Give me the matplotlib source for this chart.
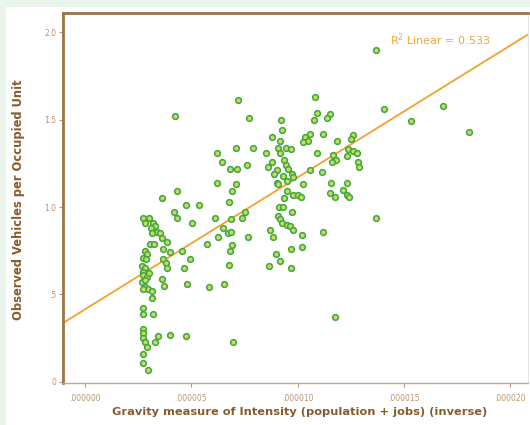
import numpy as np
import matplotlib
matplotlib.use("Agg")
import matplotlib.pyplot as plt
from matplotlib.patches import Rectangle
from matplotlib.ticker import FixedLocator, FixedFormatter

# gravity measure in units of 1e-6, vehicles per occupied unit
gravity_micro = [
    # outliers
    13.69, 4.23, 7.20, 7.71, 14.06, 16.84, 15.33, 18.06, 13.69, 11.76, 6.96,
    # mid-upper group
    6.21, 6.44, 7.10, 7.90, 6.82, 7.15, 7.62, 6.21, 7.10, 6.91, 4.33, 3.62,
    4.75, 5.36, 6.77, 4.19, 8.51, 8.61,
    # right dense group
    10.82, 10.91, 11.52, 11.38, 10.77, 9.22, 9.27, 8.80, 9.17, 10.35, 10.58,
    10.49, 10.25, 11.19, 11.85, 12.61, 12.51, 9.08, 9.45, 9.69, 9.17, 10.91,
    11.67, 11.81, 11.62, 12.37, 12.61, 12.79, 12.32, 12.84, 12.89, 8.80, 9.36,
    9.45, 9.55, 9.03, 9.31, 8.89, 10.58, 11.15, 9.74, 9.78, 9.03, 9.50, 9.08,
    10.25, 11.57, 12.32, 11.52, 12.14, 12.32, 12.42, 11.76, 9.50, 9.78, 10.02,
    10.16, 9.36, 9.13, 9.31, 9.74,
    # right lower group
    9.08, 9.17, 9.27, 9.50, 9.64, 9.78, 8.70, 8.84, 10.21, 11.19, 9.69, 10.21,
    8.98, 9.17, 8.65, 9.69,
    # middle lower group
    6.11, 6.87, 7.38, 7.53, 6.49, 6.26, 6.73, 6.87, 7.67, 5.74, 6.91, 6.82,
    6.77, 5.83, 6.54,
    # left column
    4.33, 5.03, 2.73, 2.82, 3.01, 3.20, 3.29, 3.10, 3.39, 3.53, 3.15, 3.62,
    3.86, 3.06, 3.25, 2.82, 2.92, 3.67, 4.00, 4.56, 2.73, 2.87, 3.67, 3.81,
    4.94, 2.68, 2.82, 2.73, 3.86, 4.66, 2.73, 2.92, 3.01, 2.68, 2.82, 3.62,
    3.72, 4.80, 2.82, 2.96, 3.15, 2.73, 3.15, 2.73, 2.73, 3.20, 2.73, 2.73,
    2.73, 2.82, 2.92, 3.43, 3.29, 4.00, 4.75, 2.73, 2.73, 2.96,
]
vehicles = [
    1.90, 1.52, 1.61, 1.51, 1.56, 1.58, 1.49, 1.43, 0.94, 0.37, 0.23,
    1.31, 1.26, 1.34, 1.34, 1.22, 1.22, 1.24, 1.14, 1.13, 1.09, 1.09, 1.05,
    1.01, 1.01, 1.03, 0.97, 1.31, 1.23,
    1.63, 1.54, 1.53, 1.51, 1.50, 1.50, 1.44, 1.40, 1.38, 1.40, 1.42,
    1.38, 1.37, 1.42, 1.38, 1.41, 1.39, 1.34, 1.34, 1.33, 1.31, 1.31,
    1.30, 1.27, 1.26, 1.33, 1.32, 1.31, 1.29, 1.26, 1.23, 1.26, 1.27,
    1.24, 1.22, 1.21, 1.18, 1.19, 1.21, 1.20, 1.19, 1.17, 1.14, 1.15, 1.13,
    1.13, 1.14, 1.14, 1.08, 1.10, 1.07, 1.06, 1.06, 1.09, 1.07, 1.07,
    1.06, 1.05, 1.00, 1.00, 0.97,
    0.95, 0.93, 0.91, 0.90, 0.89, 0.87, 0.87, 0.83, 0.84, 0.86, 0.76, 0.77,
    0.73, 0.69, 0.66, 0.65,
    0.94, 0.93, 0.94, 0.97, 0.88, 0.83, 0.85, 0.86, 0.83, 0.79, 0.78, 0.75,
    0.67, 0.54, 0.56,
    0.94, 0.91, 0.94, 0.91, 0.94, 0.91, 0.89, 0.88, 0.86, 0.85, 0.85, 0.82,
    0.80, 0.79, 0.79, 0.75, 0.73, 0.76, 0.74, 0.75, 0.71, 0.70, 0.70, 0.68,
    0.70, 0.66, 0.65, 0.63, 0.65, 0.65, 0.61, 0.60, 0.62, 0.57, 0.58, 0.59,
    0.55, 0.56, 0.54, 0.53, 0.52, 0.53, 0.48, 0.42, 0.39, 0.39, 0.30, 0.28,
    0.25, 0.23, 0.20, 0.26, 0.23, 0.27, 0.26, 0.16, 0.11, 0.07,
]

# fit line
fit_intercept = 0.415
fit_slope = 0.0754e6
r2_text = "R$^2$ Linear = 0.533"

x_ticks = [0, 5e-6, 10e-6, 15e-6, 20e-6]
x_tick_labels = [".000000", ".000005", ".000010", ".000015", ".000020"]
y_ticks = [0, 0.5, 1.0, 1.5, 2.0]
y_tick_labels = ["0", ".5", "1.0", "1.5", "2.0"]

brown = "#9c7448"
label_brown = "#8a5a2c"
tick_brown = "#b89470"

fig = plt.figure(figsize=(5.3, 4.25), dpi=100)
fig.patch.set_facecolor("#e9f4ea")
# white panel behind the chart
panel = Rectangle((6 / 530, 0), 1, 1 - 7 / 425, transform=fig.transFigure,
                  facecolor="white", edgecolor="none", zorder=-10)
fig.add_artist(panel)

ax = fig.add_axes([63 / 530, 1 - 383 / 425, (528 - 63) / 530, (383 - 13) / 425])
ax.set_zorder(1)
ax.set_facecolor("white")

x = np.array(gravity_micro) * 1e-6
y = np.array(vehicles)

ax.set_xlim(-1.035e-6, 20.84e-6)
ax.set_ylim(-0.006, 2.109)

ax.scatter(x, y, s=17, facecolor="#c8dc58", edgecolor="#3ca646", linewidths=1.1, zorder=3)

xl = np.array(ax.get_xlim())
ax.plot(xl, fit_intercept + fit_slope * xl, color="#f4a02c", lw=1.3, zorder=2)

ax.text(390, 425 - 40, r2_text, transform=None, color="#f2a43a", fontsize=8,
        ha="left", va="center")

ax.xaxis.set_major_locator(FixedLocator(x_ticks))
ax.xaxis.set_major_formatter(FixedFormatter(x_tick_labels))
ax.yaxis.set_major_locator(FixedLocator(y_ticks))
ax.yaxis.set_major_formatter(FixedFormatter(y_tick_labels))
ax.tick_params(axis="x", colors=tick_brown, labelsize=5.5, length=3, width=0.8, pad=5)
ax.tick_params(axis="y", colors=tick_brown, labelsize=5.5, length=3, width=0.8, pad=2)

for side in ["left", "top"]:
    ax.spines[side].set_color(brown)
    ax.spines[side].set_linewidth(2.0)
ax.spines["bottom"].set_color("#c8aa88")
ax.spines["bottom"].set_linewidth(1.0)
ax.spines["right"].set_color("#e4e4e4")
ax.spines["right"].set_linewidth(0.8)

fig.text(300 / 530, 1 - 412 / 425, "Gravity measure of Intensity (population + jobs) (inverse)",
         color=label_brown, fontsize=8.2, fontweight="bold", ha="center", va="center")
fig.text(19 / 530, 1 - 200 / 425, "Observed Vehicles per Occupied Unit",
         color=label_brown, fontsize=8.3, fontweight="bold", rotation=90,
         ha="center", va="center")

fig.savefig("out.png", dpi=100, facecolor=fig.get_facecolor())
